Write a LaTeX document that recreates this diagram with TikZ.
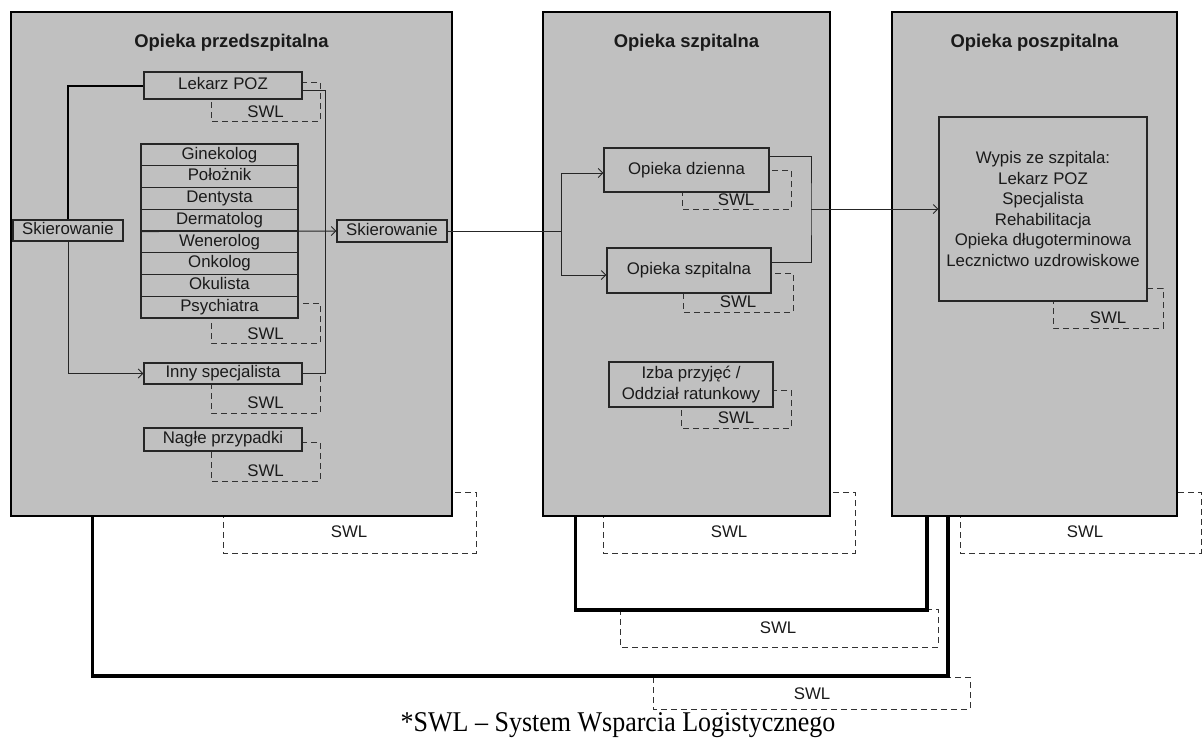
\documentclass[tikz,border=0pt]{standalone}
\usepackage{graphicx}
\usepackage{fontspec}
\setmainfont{Liberation Sans}
\newfontfamily\footserif{Liberation Serif}
\usetikzlibrary{arrows.meta}
\definecolor{panelgray}{HTML}{C0C0C0}
\definecolor{ink}{HTML}{1A1A1A}
\begin{document}
\begin{tikzpicture}[x=1pt,y=-1pt,
  every node/.style={font=\fontsize{16.8}{20.5}\selectfont, text=ink, inner sep=0pt},
  panel/.style={draw=black, line width=1.3pt, fill=panelgray},
  title/.style={font=\bfseries\fontsize{18.4}{22}\selectfont},
  cell/.style={draw=black!85, line width=1.1pt, fill=panelgray, align=center, text height=12pt, text depth=3.5pt},
  multicell/.style={draw=black!85, line width=1.1pt, fill=panelgray, align=center},
  swlbox/.style={draw=black!80, line width=1pt, dash pattern=on 6pt off 4pt},
  swltext/.style={},
  conn/.style={draw=black!85, line width=1pt},
  arr/.style={conn, -{Straight Barb[length=4.5pt,width=9pt]}},
  medium/.style={draw=black, line width=2pt},
  heavy/.style={draw=black, line width=3.2pt}
]
\useasboundingbox (0,0) rectangle (1203,744);

% ---- big SWL outlines behind panels
\draw[swlbox] (223,492) rectangle (476,553);
\node[swltext] (swlb1) at (349,532) {SWL};
\draw[swlbox] (603,492) rectangle (855,553);
\node[swltext] (swlb2) at (729,532) {SWL};
\begin{scope}
\clip (0,0) rectangle (1203,744);
\draw[swlbox] (960,492) rectangle (1201,553);
\end{scope}
\node[swltext] (swlb3) at (1085,532) {SWL};

% ---- panels
\node[panel, minimum width=441pt, minimum height=504pt] (b1) at (231.5,264) {};
\node[panel, minimum width=287pt, minimum height=504pt] (b2) at (686.5,264) {};
\node[panel, minimum width=285pt, minimum height=504pt] (b3) at (1034.5,264) {};
\node[title] (t1) at (231.5,43) {Opieka przedszpitalna};
\node[title] (t2) at (686.5,43) {Opieka szpitalna};
\node[title] (t3) at (1034.5,43) {Opieka poszpitalna};

% ---- SWL outlines of loops
\draw[swlbox] (620,609) rectangle (938,647);
\node[swltext] (swll2) at (778,628) {SWL};
\draw[swlbox] (653,677) rectangle (970,709);
\node[swltext] (swll1) at (812,694) {SWL};

% ---- inner SWL outlines
\draw[swlbox] (211,82) rectangle (320,121);
\node[swltext] (swl1) at (265.5,112) {SWL};
\draw[swlbox] (211,303) rectangle (320,343);
\node[swltext] (swl2) at (265.5,334) {SWL};
\draw[swlbox] (211,373) rectangle (320,413);
\node[swltext] (swl3) at (265.5,403) {SWL};
\draw[swlbox] (211,442) rectangle (320,481);
\node[swltext] (swl4) at (265.5,471) {SWL};
\draw[swlbox] (682,170) rectangle (791,209);
\node[swltext] (swl5) at (736,200) {SWL};
\draw[swlbox] (683,273) rectangle (793,312);
\node[swltext] (swl6) at (738,302) {SWL};
\draw[swlbox] (681,390) rectangle (791,428);
\node[swltext] (swl7) at (736,418) {SWL};
\draw[swlbox] (1053,288) rectangle (1163,328);
\node[swltext] (swl8) at (1108,318) {SWL};

% ---- inner boxes, left panel
\node[cell, minimum width=158pt, minimum height=27pt] (lek) at (223,85.5) {Lekarz POZ};
\node[cell, minimum width=110pt, minimum height=21pt] (skl) at (68,230.5) {Skierowanie};
\foreach \i/\t in {1/Ginekolog,2/Położnik,3/Dentysta,4/Dermatolog,5/Wenerolog,6/Onkolog,7/Okulista,8/Psychiatra}
  \node[cell, minimum width=157pt, minimum height=21.75pt] (r\i) at (219.5,{144+21.75*(\i-0.5)}) {\t};
\node[cell, minimum width=158pt, minimum height=21pt] (inny) at (223,373.5) {Inny specjalista};
\node[cell, minimum width=158pt, minimum height=23pt] (nagle) at (223,439.5) {Nagłe przypadki};
\node[cell, minimum width=110pt, minimum height=22pt] (sk2) at (392,231) {Skierowanie};

% ---- inner boxes, middle panel
\node[cell, minimum width=165pt, minimum height=44pt] (od) at (686.5,170) {Opieka dzienna};
\node[cell, minimum width=164pt, minimum height=45pt] (osz) at (689,270.5) {Opieka szpitalna};
\node[multicell, minimum width=164pt, minimum height=45pt] (izba) at (691,384.5) {Izba przyjęć /\\Oddział ratunkowy};

% ---- inner box, right panel
\node[multicell, minimum width=208pt, minimum height=184pt] (wyp) at (1043,209)
  {Wypis ze szpitala:\\Lekarz POZ\\Specjalista\\Rehabilitacja\\Opieka długoterminowa\\Lecznictwo uzdrowiskowe};

% ---- connectors, left panel
\draw[medium] (skl.north) |- (lek.west);
\draw[arr] (skl.south) |- (inny.west);
\coordinate (bus) at (325,90);
\draw[conn] ([yshift=-4.5pt]lek.east) -- (bus) |- (inny.east);
\draw[arr] (r4.south west) -- (sk2.west);

% ---- connectors, middle panel
\coordinate (split) at (561,231);
\draw[conn] (sk2.east) -- (split);
\draw[arr] (split) |- ([yshift=-3pt]od.west);
\draw[arr] (split) |- ([yshift=-4.5pt]osz.west);
\coordinate (merge) at (811,209);
\draw[conn] ([yshift=14pt]od.east) -| (merge) |- ([yshift=8.5pt]osz.east);
\draw[arr] (merge) -- (wyp.west);

% ---- heavy loops between panels
\coordinate (c2) at (927,610);
\draw[heavy] ([xshift=33pt]b2.south west) |- (c2) -- (c2 |- b3.south);
\coordinate (c1) at (948,676);
\draw[heavy] ([xshift=82pt]b1.south west) |- (c1) -- (c1 |- b3.south);

% ---- footnote
\node[anchor=base, font=\footserif\fontsize{26}{30}\selectfont, text=black] (foot) at (618,731.5) {\scalebox{1}[1.1]{*SWL – System Wsparcia Logistycznego}};
\end{tikzpicture}
\end{document}
